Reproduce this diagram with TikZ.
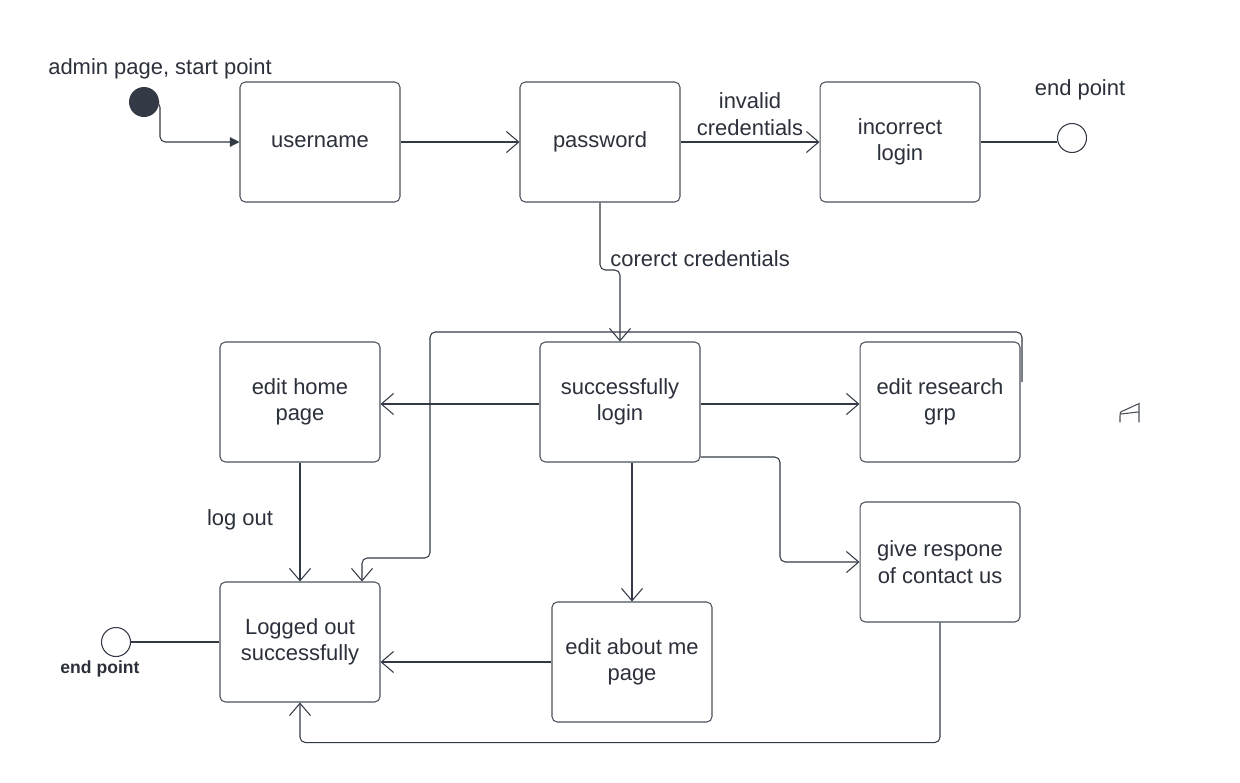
\documentclass[tikz,border=0pt]{standalone}
\usepackage{fontspec}
\setmainfont{Liberation Sans}
\usetikzlibrary{arrows.meta,calc}
\definecolor{ink}{HTML}{333A45}
\definecolor{txt}{HTML}{2B303B}
\definecolor{edge}{HTML}{4A505A}
\tikzset{
  statebox/.style={draw=edge,line width=0.6pt,rounded corners=3pt,minimum width=3.2cm,minimum height=2.4cm,align=center,text=txt,font=\fontsize{12.5}{15}\selectfont,inner sep=2pt},
  conn/.style={draw=ink,line width=0.6pt,rounded corners=3pt},
  arr/.style={conn,-{Straight Barb[length=7pt,width=12pt,line width=0.6pt]}},
  farr/.style={conn,-{Triangle[length=5.5pt,width=5.5pt]}},
  lbl/.style={text=txt,font=\fontsize{12.5}{15}\selectfont,align=center,inner sep=0pt},
  endpt/.style={circle,draw=ink,line width=0.6pt,minimum size=0.58cm,inner sep=0pt,fill=white},
  startpt/.style={circle,fill=ink,minimum size=0.6cm,inner sep=0pt},
}
\begin{document}
\begin{tikzpicture}[x=0.02cm,y=-0.02cm]
\useasboundingbox (0,0) rectangle (1240,782);
% nodes
\node[startpt] (start) at (144,102) {};
\node[lbl,anchor=center] (startlbl) at (160,69) {admin page, start point};
\node[statebox] (user) at (320,142) {username};
\node[statebox] (pw) at (600,142) {password};
\node[statebox] (inc) at (900,142) {incorrect\\login};
\node[endpt] (end1) at (1072,138) {};
\node[lbl] (end1lbl) at (1080,90) {end point};
\node[statebox] (succ) at (620,402) {successfully\\login};
\node[statebox] (home) at (300,402) {edit home\\page};
\node[statebox] (res) at (940,402) {edit research\\grp};
\node[statebox] (give) at (940,562) {give respone\\of contact us};
\node[statebox] (about) at (632,662) {edit about me\\page};
\node[statebox] (out) at (300,642) {Logged out\\successfully};
\node[endpt] (end2) at (116,642) {};
\node[text=txt,font=\fontsize{10}{12}\selectfont\bfseries,inner sep=0pt] (end2lbl) at (100,669) {end point};
% labels
\node[lbl] (invlbl) at (750,114) {invalid\\credentials};
\node[lbl,anchor=west] (corlbl) at (610,259) {corerct credentials};
\node[lbl] (loglbl) at (240,520) {log out};
% connectors
\draw[farr] (start.east) -- (160,102) |- (user.west);
\draw[arr] (user.east) -- (pw.west);
\draw[arr] (pw.east) -- (inc.west);
\draw[conn] (inc.east) -- (end1.west |- inc.east);
\draw[arr] (pw.south) -- (600,270) -| (succ.north);
\draw[arr] ($(succ.west)+(0,2)$) -- ($(home.east)+(0,2)$);
\draw[arr] ($(succ.east)+(0,2)$) -- ($(res.west)+(0,2)$);
\draw[arr] ($(succ.south)+(12,0)$) -- (about.north);
\draw[arr] (succ.south east |- 0,457) -- (780,457) |- (give.west);
\draw[arr] (about.west) -- (about.west -| out.east);
\draw[arr] (home.south) -- (out.north);
\draw[arr] (give.south) |- ($(out.south)+(0,40)$) -- (out.south);
\coordinate (loopst) at (1022,382);
\draw[arr] (loopst) -- (1022,332) -- (430,332) -- (430,558) -- (362,558) -- ($(out.north)+(62,0)$);
\draw[conn] (end2.east) -- (out.west);
% stray scribble
\draw[draw=edge,line width=0.6pt,line cap=round,line join=round]
  (1120,422) -- (1120,416) .. controls (1120,412) .. (1125,410) -- (1138,404)
  (1139,403) -- (1139,422)
  (1121,414) -- (1138,412);
\end{tikzpicture}
\end{document}
